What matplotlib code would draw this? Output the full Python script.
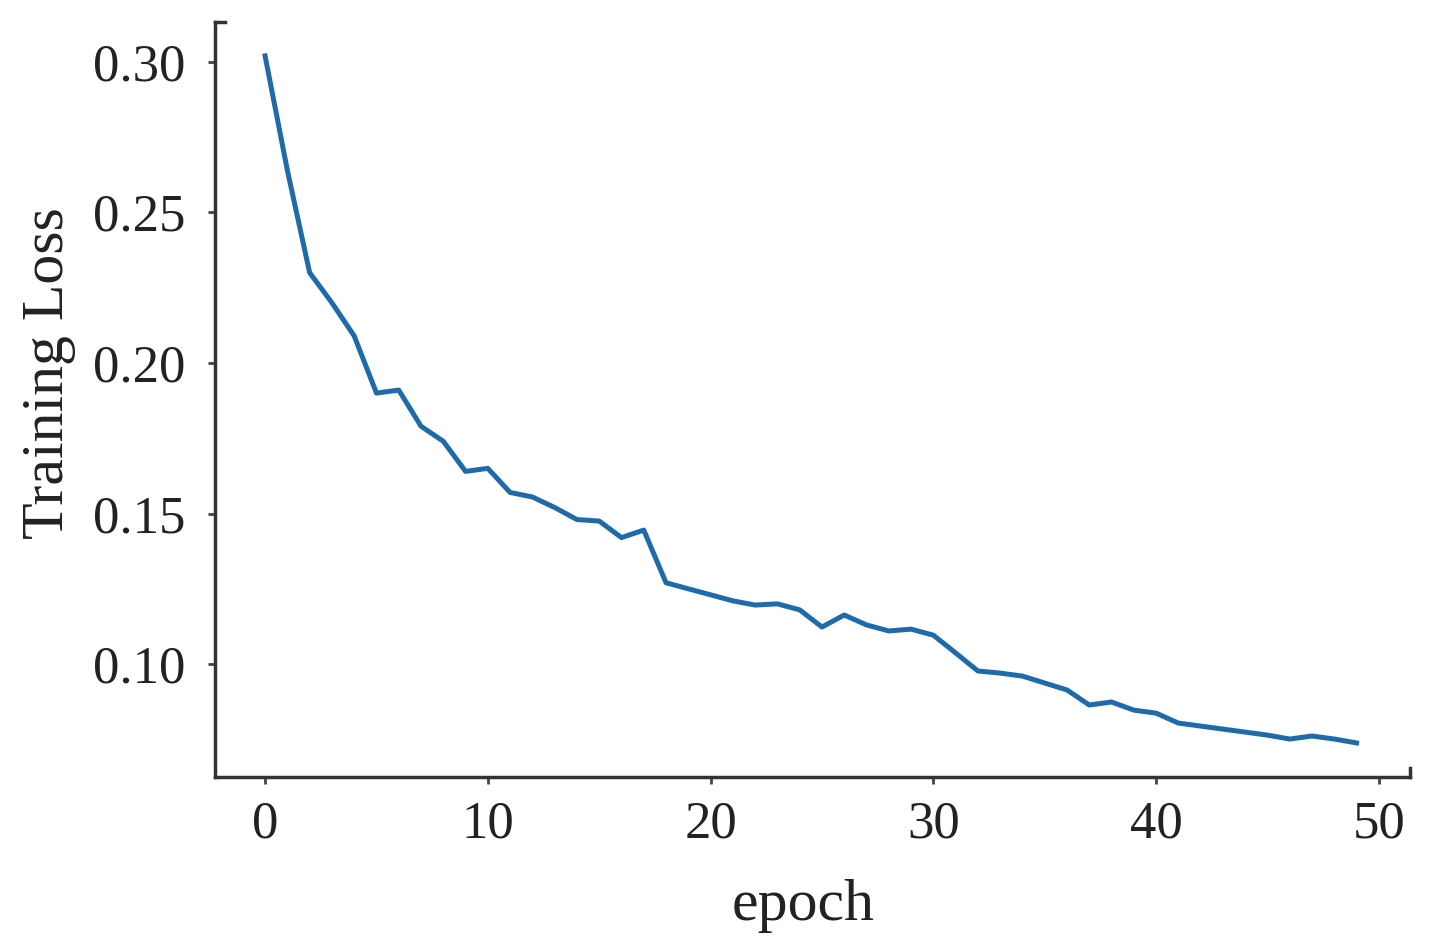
import numpy as np
import matplotlib.pyplot as plt

plt.rcParams['font.family'] = ['Liberation Serif', 'DejaVu Serif']

# training loss per epoch
epoch = np.arange(50)
loss = [0.302, 0.264, 0.230, 0.220, 0.209, 0.190, 0.191, 0.179, 0.174, 0.164,
        0.165, 0.157, 0.1555, 0.152, 0.148, 0.1475, 0.142, 0.1445, 0.127, 0.125,
        0.123, 0.121, 0.1196, 0.120, 0.118, 0.1123, 0.1163, 0.113, 0.111, 0.1116,
        0.1096, 0.1037, 0.0977, 0.097, 0.096, 0.0937, 0.0914, 0.0864, 0.0874, 0.0847,
        0.0837, 0.0804, 0.0794, 0.0784, 0.0774, 0.0764, 0.0751, 0.0761, 0.0751, 0.0738]

fig = plt.figure(figsize=(14.35, 9.51), dpi=100)
ax = fig.add_axes([0.1498, 0.183, 0.8328, 0.794])
ax.plot(epoch, loss, color='#1f6aa8', lw=3.6)

ax.set_xlim(-2.25, 51.4)
ax.set_ylim(0.0625, 0.3133)
ax.set_xticks([0, 10, 20, 30, 40, 50])
ax.set_yticks([0.10, 0.15, 0.20, 0.25, 0.30])
ax.set_yticklabels(['0.10', '0.15', '0.20', '0.25', '0.30'])
ax.tick_params(labelsize=38, length=5, width=2, color='#444444', labelcolor='#222222')
ax.tick_params(axis='y', pad=16)
ax.tick_params(axis='x', pad=12)

for s in ['top', 'right']:
    ax.spines[s].set_visible(False)
for s in ['left', 'bottom']:
    ax.spines[s].set_linewidth(2.5)
    ax.spines[s].set_color('#333333')

# little end caps on the spines
ax.plot([0, 0.008], [1, 1], transform=ax.transAxes, color='#333333', lw=2.5, clip_on=False)
ax.plot([1, 1], [0, 0.012], transform=ax.transAxes, color='#333333', lw=2.5, clip_on=False)

ax.set_xlabel('epoch', fontsize=43, color='#222222')
ax.set_ylabel('Training Loss', fontsize=43, color='#222222')
ax.xaxis.set_label_coords(0.492, -0.135)
ax.yaxis.set_label_coords(-0.116, 0.535)

fig.savefig('out.png', dpi=100)
